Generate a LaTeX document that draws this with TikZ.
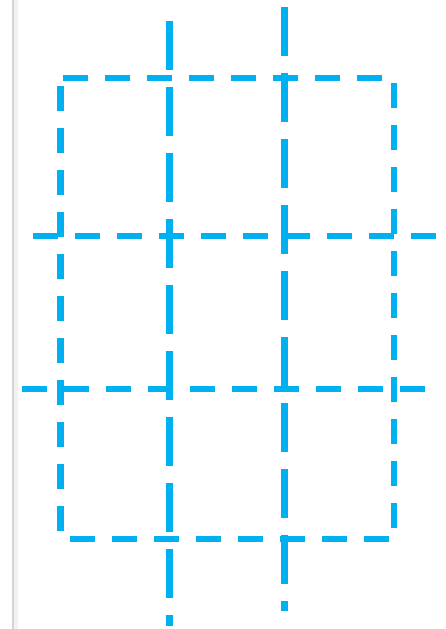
\documentclass[tikz,border=0pt]{standalone}
\usetikzlibrary{positioning}
\definecolor{Sky}{HTML}{00B0F0}
\definecolor{Rule}{HTML}{D4D4D4}
\definecolor{RuleSoft}{HTML}{F2F2F2}
\tikzset{
  boxline/.style={draw=Sky,line width=6.5pt,dash pattern=on 25pt off 17pt},
  longline/.style={draw=Sky,line width=6.5pt,dash pattern=on 48.5pt off 17.5pt},
  crossline/.style={draw=Sky,line width=6.5pt,dash pattern=on 24.5pt off 17.5pt}
}
\begin{document}
\begin{tikzpicture}[x=1pt,y=-1pt]
  \useasboundingbox (0,0) rectangle (445,629);
  \fill[RuleSoft] (13,0) rectangle (18,629);
  \fill[Rule] (11.5,0) rectangle (13.5,629);
  \coordinate (tl) at (60.5,78);
  \coordinate (tr) at (394,78);
  \coordinate (br) at (394,539);
  \coordinate (bl) at (60.5,539);
  \draw[boxline,dash phase=40pt] (tl) -- (tr) -- (br) -- (bl) -- cycle;
  \coordinate (va1) at (169.5,21);
  \coordinate (va2) at (169.5,626);
  \coordinate (vb1) at (284.5,7);
  \coordinate (vb2) at (284.5,611);
  \draw[longline] (va1) -- (va2);
  \draw[longline] (vb1) -- (vb2);
  \coordinate (ha1) at (33,236);
  \coordinate (ha2) at (436,236);
  \coordinate (hb1) at (22,389);
  \coordinate (hb2) at (426,389);
  \draw[crossline] (ha1) -- (ha2);
  \draw[crossline] (hb1) -- (hb2);
\end{tikzpicture}
\end{document}
